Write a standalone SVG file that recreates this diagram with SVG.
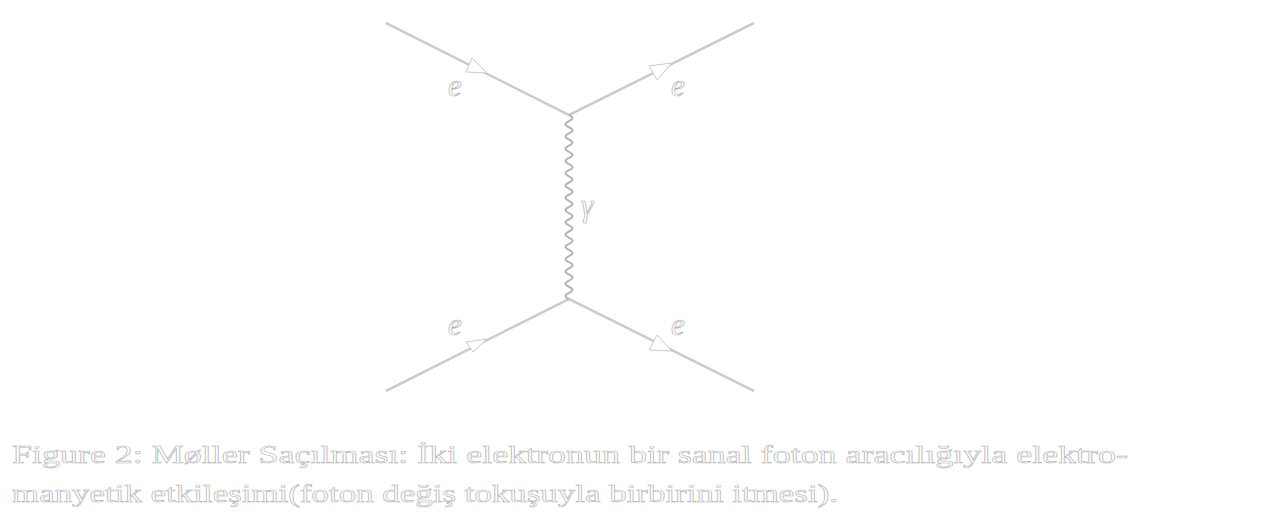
<svg xmlns="http://www.w3.org/2000/svg" width="1280" height="528" viewBox="0 0 1280 528">
<style>
.ln{fill:none;stroke:#b4b4b4;stroke-width:2}
.lni{fill:none;stroke:#f2f2f2;stroke-width:0.6}
.ar{fill:#fff;stroke:#c4c4c4;stroke-width:0.9;stroke-linejoin:round}
.lb{font-family:"Liberation Serif",serif;font-style:italic;font-size:31px;fill:#fff;stroke:#b0b0b0;stroke-width:0.7}
.cap{font-family:"Liberation Serif",serif;font-size:26px;fill:#fff;stroke:#b4b4b4;stroke-width:0.6}
</style>
<rect width="1280" height="528" fill="#fff"/>
<g id="connectors">
<path id="e-in-top" class="ln" d="M386,23 L569,115"/>
<path id="e-out-top" class="ln" d="M569,115 L754,23"/>
<path id="e-in-bot" class="ln" d="M386,391 L569,299"/>
<path id="e-out-bot" class="ln" d="M569,299 L754,391"/>
<path class="lni" d="M386,23 L569,115 L754,23 M386,391 L569,299 L754,391"/>
<path id="photon" class="ln" stroke-width="1.6" d="M569,115 q7,3.067 0,6.133 t0,6.133 t0,6.133 t0,6.133 t0,6.133 t0,6.133 t0,6.133 t0,6.133 t0,6.133 t0,6.133 t0,6.133 t0,6.133 t0,6.133 t0,6.133 t0,6.133 t0,6.133 t0,6.133 t0,6.133 t0,6.133 t0,6.133 t0,6.133 t0,6.133 t0,6.133 t0,6.133 t0,6.133 t0,6.133 t0,6.133 t0,6.133 t0,6.133 t0,6.133"/>
<polygon class="ar" points="472,58 466,72 487,73"/>
<polygon class="ar" points="649,66 657,80 672,63"/>
<polygon class="ar" points="466,342 473,352 487,339"/>
<polygon class="ar" points="649,350 657,335 672,351"/>
</g>
<g id="label-e1"><text class="lb" x="448" y="96">e</text></g>
<g id="label-e2"><text class="lb" x="671" y="96">e</text></g>
<g id="label-e3"><text class="lb" x="448" y="335">e</text></g>
<g id="label-e4"><text class="lb" x="671" y="335">e</text></g>
<g id="label-gamma"><text class="lb" x="581" y="216">γ</text></g>
<g id="caption">
<text class="cap" x="12" y="463" textLength="1116" lengthAdjust="spacingAndGlyphs">Figure 2:  Møller Saçılması:  İki elektronun bir sanal foton aracılığıyla elektro-</text>
<text class="cap" x="12" y="502" textLength="826" lengthAdjust="spacingAndGlyphs">manyetik etkileşimi(foton değiş tokuşuyla birbirini itmesi).</text>
</g>
</svg>
